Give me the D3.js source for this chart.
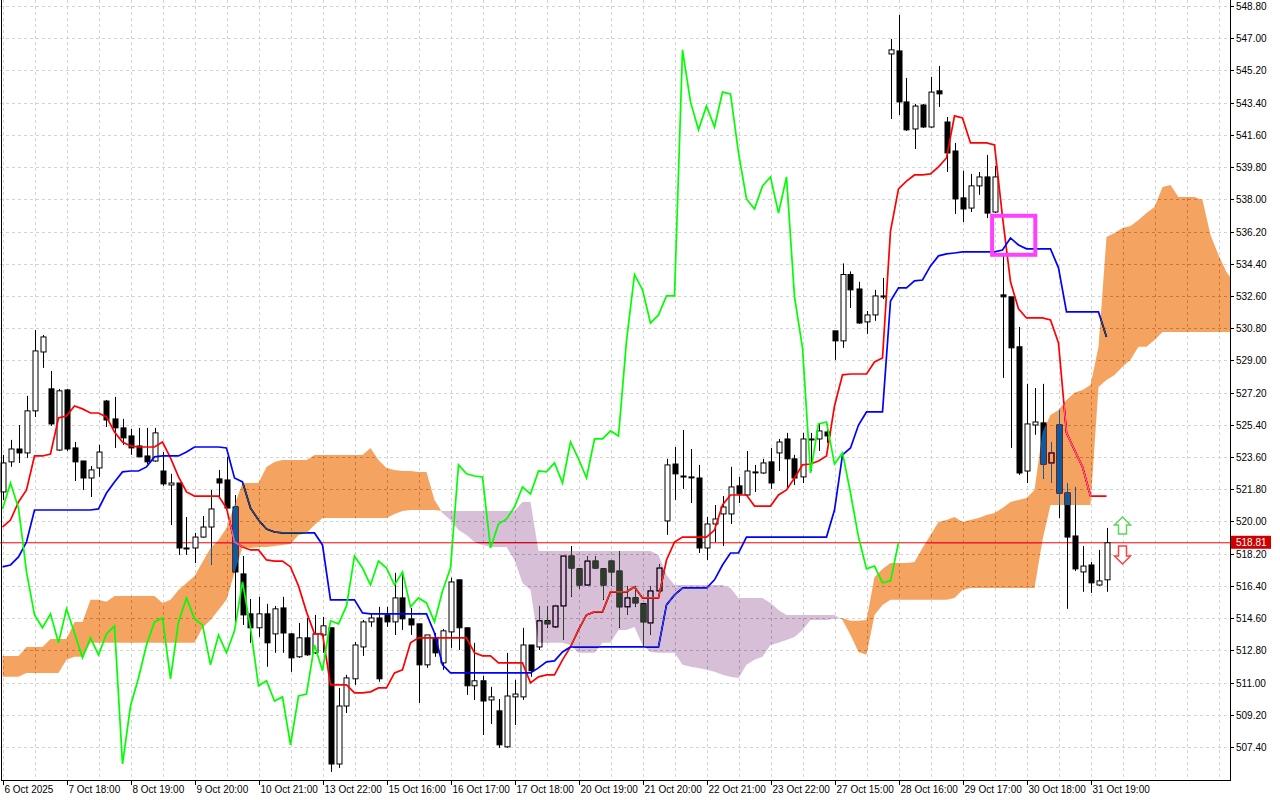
<!DOCTYPE html>
<html>
<head>
<meta charset="utf-8">
<script src="https://cdnjs.cloudflare.com/ajax/libs/d3/7.8.5/d3.min.js"></script>
<style>
  html, body { margin: 0; padding: 0; background: #fff; }
  svg { display: block; }
  text { font-family: "Liberation Sans", Arial, sans-serif; font-size: 10px; fill: #000; }
</style>
</head>
<body>
<svg id="chart" width="1280" height="800"></svg>
<script>
// price bars, one per hour
const opens = [
  521.65,523.33,524.05,523.83,526.18,529.47,527.41,523.99,527.35,524.11,
  523.38,522.43,522.99,526.73,525.73,525.23,524.78,524.22,523.66,523.38,
  522.82,522.04,522.15,518.52,518.52,519.13,519.69,522.38,522.32,520.81,
  517.07,514.84,514.06,514.84,513.72,515.17,513.72,512.44,513.50,512.66,
  513.66,514.06,506.45,509.69,511.21,512.99,514.39,514.61,514.78,514.39,
  515.73,514.56,514.28,511.99,513.50,512.10,513.83,516.74,514.06,510.82,
  511.10,510.03,509.42,507.41,510.20,510.20,513.10,512.99,514.45,514.11,
  515.28,518.07,517.35,516.45,517.79,517.35,517.79,517.23,515.23,515.73,
  515.40,514.33,516.12,520.03,523.21,522.54,522.49,522.43,518.52,519.86,
  520.42,520.42,521.99,521.48,522.77,522.71,523.33,523.83,524.61,523.50,
  522.49,524.61,524.61,525.00,530.65,530.09,533.80,532.99,531.15,531.54,
  532.60,546.12,546.29,543.44,541.93,543.27,542.04,544.06,542.32,540.70,
  538.08,537.51,538.75,539.25,537.29,532.66,532.55,529.76,522.82,525.39,
  525.51,523.27,525.39,521.59,519.19,517.18,517.57,516.45,516.74
];
const highs = [
  523.72,524.56,525.39,527.02,530.70,530.42,528.41,527.41,527.41,524.44,
  523.38,523.10,524.28,526.79,526.96,525.73,525.17,525.23,525.23,525.23,
  523.88,522.66,522.15,520.25,519.36,520.31,521.76,522.88,523.61,521.48,
  518.07,515.67,515.79,515.40,515.28,515.79,513.77,514.33,514.61,514.78,
  514.67,514.06,510.70,511.43,513.27,514.50,514.84,515.23,515.23,517.13,
  517.18,515.17,514.28,513.66,513.77,514.00,516.86,516.74,514.06,513.22,
  511.38,510.76,510.08,512.66,511.15,514.06,513.10,515.28,515.28,515.34,
  518.07,518.63,517.35,518.07,518.07,517.35,517.79,518.35,516.40,516.40,
  515.40,516.40,517.62,523.50,524.16,525.11,524.05,523.16,520.25,520.92,
  521.42,523.05,522.49,523.94,523.16,523.50,524.11,524.61,524.95,523.72,
  524.95,524.95,525.45,525.45,530.65,534.42,533.97,533.39,531.76,532.94,
  533.61,546.96,548.30,544.78,543.33,543.33,544.84,545.45,542.60,541.15,
  539.59,539.42,539.53,540.48,539.87,535.00,532.55,530.87,527.69,527.46,
  527.69,524.44,526.23,522.15,521.93,518.63,517.74,518.41,519.64
];
const lows = [
  521.20,523.05,523.27,523.55,525.84,528.58,525.34,523.94,523.94,522.26,
  521.76,521.37,522.49,525.28,524.11,524.28,523.72,523.61,523.21,523.33,
  521.99,519.80,518.13,518.13,517.68,519.08,517.57,521.37,520.75,514.22,
  514.22,513.22,513.55,511.88,512.66,512.66,511.60,512.38,512.49,512.60,
  512.66,506.01,506.23,509.30,510.87,512.49,514.11,511.04,514.11,513.66,
  513.94,513.66,509.86,511.82,512.44,511.71,512.94,512.82,510.31,510.03,
  508.07,508.69,507.35,507.35,508.63,510.03,511.32,512.82,514.06,514.06,
  513.38,515.79,516.23,516.40,517.35,515.62,516.40,514.06,514.78,515.23,
  512.99,513.66,516.07,519.25,521.20,521.82,521.03,518.24,517.85,518.85,
  518.63,519.86,521.03,521.42,521.65,522.66,521.82,522.82,521.82,522.04,
  522.15,522.82,523.94,524.39,529.03,529.70,531.93,531.04,530.48,531.21,
  532.43,542.49,542.71,541.82,540.81,541.99,541.99,543.16,539.53,537.18,
  536.73,537.29,538.25,536.95,537.23,528.02,524.11,522.60,522.15,524.84,
  522.38,522.15,520.19,515.12,517.23,516.07,516.01,516.40,516.07
];
const closes = [
  523.27,524.05,523.83,526.18,529.53,530.31,525.45,527.30,524.05,523.33,
  522.43,522.88,523.88,525.67,525.23,524.67,524.11,523.61,523.33,524.95,
  522.10,522.15,518.52,518.52,519.13,519.69,520.70,522.15,520.75,517.18,
  514.78,514.06,514.84,513.22,515.12,513.77,512.38,513.50,512.55,513.72,
  514.17,506.45,509.69,511.26,513.10,514.39,514.61,511.21,514.39,515.73,
  514.56,514.22,511.99,513.66,512.66,513.89,516.62,514.06,510.82,511.10,
  509.97,510.20,507.52,510.25,510.36,513.10,511.66,514.45,514.28,515.28,
  518.07,517.40,516.45,517.79,517.40,516.45,517.18,515.23,515.73,515.45,
  514.39,516.12,517.40,523.16,522.66,522.54,522.49,518.52,519.86,520.14,
  520.81,521.93,521.54,522.82,522.77,523.27,522.15,524.44,523.50,522.43,
  524.61,524.61,525.06,524.78,530.09,533.80,532.94,531.09,531.54,532.60,
  532.60,546.35,543.44,541.88,543.21,542.04,543.99,543.89,540.59,538.02,
  537.46,538.75,539.25,537.23,539.25,532.55,529.70,522.71,525.45,525.56,
  523.21,523.83,521.59,519.13,517.35,517.51,516.57,516.68,518.81
];

// Ichimoku lines
const tenkan = [
  519.69,520.08,521.09,521.76,523.66,523.66,523.77,525.78,525.90,526.45,
  526.29,526.06,526.06,525.84,525.00,524.44,524.22,524.16,524.16,524.16,
  524.44,523.55,522.49,521.65,521.42,521.42,521.42,521.42,520.75,518.85,
  518.57,518.41,518.41,517.85,517.79,517.79,517.46,516.40,514.95,513.72,
  513.72,510.87,510.87,510.87,510.42,510.42,510.48,510.70,510.70,511.54,
  511.71,513.22,513.50,513.50,513.50,513.50,513.50,513.50,513.50,512.66,
  512.49,512.49,512.10,512.10,512.10,512.10,510.98,511.32,511.43,511.43,
  512.27,512.99,513.94,514.78,514.95,514.95,516.07,516.07,516.07,516.34,
  515.73,515.73,515.73,517.85,518.85,519.13,519.13,519.13,519.13,519.52,
  520.92,521.48,521.48,521.48,520.86,520.86,520.86,521.48,521.76,522.43,
  523.16,523.21,523.38,523.66,526.45,528.19,528.24,528.24,528.24,528.91,
  529.14,536.23,538.58,539.02,539.36,539.36,539.42,539.81,540.31,542.66,
  542.54,541.15,541.15,541.15,541.04,537.02,533.39,531.88,531.37,531.37,
  531.37,531.26,529.98,524.95,523.99,523.05,521.42,521.42,521.42
];
const kijun = [
  517.46,517.57,518.02,518.85,520.64,520.64,520.64,520.64,520.64,520.64,
  520.64,520.64,520.70,521.59,522.21,522.77,522.82,522.82,523.05,523.61,
  523.66,523.66,523.66,523.88,524.16,524.16,524.16,524.16,524.11,522.43,
  522.21,520.75,520.08,519.58,519.41,519.36,519.36,519.36,519.36,519.36,
  518.69,515.62,515.62,515.62,515.62,514.89,514.84,514.84,514.84,514.84,
  514.84,514.84,514.84,514.84,513.77,511.99,511.54,511.54,511.54,511.54,
  511.54,511.54,511.54,511.54,511.54,511.54,511.54,511.82,512.16,512.21,
  512.71,512.99,512.99,512.99,512.99,512.99,512.99,512.99,512.99,512.99,
  512.99,512.99,512.99,515.34,515.90,516.28,516.28,516.28,516.28,516.74,
  517.57,518.24,518.24,519.13,519.13,519.13,519.13,519.13,519.13,519.13,
  519.13,519.13,519.13,519.13,520.64,523.72,524.11,525.39,526.12,526.12,
  526.12,532.32,533.05,533.05,533.44,533.49,534.28,534.84,534.95,535.00,
  535.06,535.06,535.06,535.06,535.06,535.17,535.84,535.45,535.23,535.23,
  535.23,535.23,534.17,531.71,531.71,531.71,531.71,531.71,530.31
];
// cloud spans, 26 bars ahead of price
const spanA = [
  512.49,512.49,512.49,512.99,512.99,512.99,513.44,513.44,513.44,514.39,
  514.39,515.62,515.62,515.51,515.84,515.84,515.84,515.84,515.84,515.84,
  515.45,515.62,516.17,516.56,516.95,517.74,518.52,518.97,519.64,520.92,
  522.15,522.15,522.15,523.05,523.33,523.44,523.44,523.44,523.44,523.72,
  523.72,523.72,523.72,523.72,523.72,523.72,524.11,523.44,522.99,522.88,
  522.82,522.82,522.77,522.77,521.20,520.48,520.08,519.52,519.25,518.85,
  518.69,518.57,518.57,518.57,517.85,516.56,516.17,513.22,513.22,513.22,
  513.22,513.10,512.66,512.66,512.66,513.22,513.22,513.94,513.94,514.11,
  513.10,512.71,512.66,512.66,512.66,511.99,511.88,511.82,511.71,511.60,
  511.43,511.32,511.26,511.99,512.27,512.44,513.10,513.22,513.38,513.55,
  513.94,514.50,514.50,514.50,514.56,514.61,514.45,514.45,514.50,516.90,
  517.35,517.68,517.68,517.68,517.74,518.52,519.25,519.97,520.08,520.25,
  519.97,520.08,520.19,520.36,520.48,520.75,521.09,521.20,521.31,521.76,
  525.00,525.95,526.23,526.79,527.19,527.35,527.63,529.76,535.89,536.12,
  536.40,536.51,536.84,537.23,537.57,538.69,538.80,538.13,538.13,538.13,
  537.96,536.01,534.89,533.94,533.33
];
const spanB = [
  511.32,511.32,511.32,511.54,511.54,511.54,511.54,511.54,512.27,512.44,
  512.44,513.22,513.22,513.22,513.22,513.22,513.22,513.22,513.22,513.22,
  513.22,513.22,513.22,513.22,513.22,514.06,514.50,515.06,515.62,517.13,
  518.57,518.52,518.57,518.57,518.63,518.69,518.74,519.25,519.36,519.80,
  520.19,520.19,520.19,520.19,520.19,520.19,520.19,520.19,520.19,520.42,
  520.59,520.64,520.64,520.64,520.64,520.59,520.59,520.59,520.59,520.59,
  520.59,520.59,520.59,520.59,520.59,521.09,521.09,518.35,518.35,518.35,
  518.35,518.35,518.35,518.35,518.35,518.35,518.35,518.35,518.35,518.35,
  518.35,518.35,518.13,517.01,516.45,516.45,516.45,516.45,516.45,516.45,
  516.45,516.28,515.73,515.73,515.73,515.73,515.45,515.06,514.78,514.78,
  514.78,514.78,514.78,514.78,514.78,514.50,513.66,512.71,512.55,514.78,
  515.34,515.62,515.62,515.62,515.62,515.62,515.62,515.62,515.62,515.73,
  516.17,516.28,516.28,516.28,516.28,516.28,516.28,516.28,516.28,516.28,
  518.97,520.92,520.92,520.92,520.92,520.92,520.92,527.52,527.91,528.19,
  528.64,529.03,529.76,529.76,530.14,530.59,530.59,530.59,530.59,530.59,
  530.59,530.59,530.59,530.59,530.59
];
const chikouShift = 26;

const xLabels = [
  "6 Oct 2025","7 Oct 18:00","8 Oct 19:00","9 Oct 20:00","10 Oct 21:00",
  "13 Oct 22:00","15 Oct 16:00","16 Oct 17:00","17 Oct 18:00","20 Oct 19:00",
  "21 Oct 20:00","22 Oct 21:00","23 Oct 22:00","27 Oct 15:00","28 Oct 16:00",
  "29 Oct 17:00","30 Oct 18:00","31 Oct 19:00"
];
const labelEvery = 8;
const yTicks = d3.range(24).map(k => +(548.8 - 1.8 * k).toFixed(2));
const lastPrice = 518.81;
// highlighted box (bars, prices)
const boxBars = [123.7, 129.1];
const boxPrices = [537.08, 534.9];
const arrowBar = 140;

const W = 1230, H = 780;
const svg = d3.select('#chart');
svg.append('rect').attr('width', 1280).attr('height', 800).attr('fill', '#fff');

const x = d3.scaleLinear().domain([-0.3125, 153.4375]).range([0, W]);
const y = d3.scaleLinear().domain([507.4, 548.8]).range([747, 6]);

svg.append('clipPath').attr('id', 'clip')
  .append('rect').attr('x', 0).attr('y', 0).attr('width', W).attr('height', H);
const plot = svg.append('g').attr('clip-path', 'url(#clip)');
// white backdrop inside the clipped group so the cloud blend has something to invert
plot.append('rect').attr('width', W).attr('height', H).attr('fill', '#fff');

// grid
const gridX = d3.range(0, 154, 4);
plot.selectAll('.gx').data(gridX).enter().append('line')
  .attr('x1', d => Math.round(x(d)) + 0.5).attr('x2', d => Math.round(x(d)) + 0.5)
  .attr('y1', 0).attr('y2', H)
  .attr('stroke', '#d4d4d4').attr('stroke-dasharray', '3,3');
plot.selectAll('.gy').data(yTicks).enter().append('line')
  .attr('x1', 0).attr('x2', W)
  .attr('y1', d => Math.round(y(d)) + 0.5).attr('y2', d => Math.round(y(d)) + 0.5)
  .attr('stroke', '#d4d4d4').attr('stroke-dasharray', '3,3');

// current price line
plot.append('line').attr('x1', 0).attr('x2', W)
  .attr('y1', y(lastPrice)).attr('y2', y(lastPrice))
  .attr('stroke', '#ff0000').attr('stroke-width', 1);

// candles
const bars = plot.append('g');
closes.forEach((c, i) => {
  const o = opens[i], cx = Math.round(x(i)) + 0.5;
  const up = c >= o;
  bars.append('line').attr('x1', cx).attr('x2', cx)
    .attr('y1', y(highs[i])).attr('y2', y(lows[i])).attr('stroke', '#000');
  const top = y(Math.max(o, c)), bot = y(Math.min(o, c));
  bars.append('rect')
    .attr('x', cx - 2.5).attr('y', top)
    .attr('width', 5).attr('height', Math.max(1, bot - top))
    .attr('fill', up ? '#fff' : '#000').attr('stroke', '#000').attr('stroke-width', 1);
});

const line = d3.line().x((d, i) => x(i)).y(d => y(d));
plot.append('path').datum(tenkan).attr('d', line)
  .attr('fill', 'none').attr('stroke', '#ff0000').attr('stroke-width', 1.7);
plot.append('path').datum(kijun).attr('d', line)
  .attr('fill', 'none').attr('stroke', '#0000ff').attr('stroke-width', 1.7);

// cloud, drawn as an inverting layer the way the terminal does
const runs = [];
let cur = null;
spanA.forEach((a, i) => {
  const bull = a >= spanB[i];
  if (!cur || cur.bull !== bull) {
    if (cur) cur.idx.push(i);
    cur = {bull, idx: [i]};
    runs.push(cur);
  } else cur.idx.push(i);
});
const area = d3.area().x(i => x(i)).y0(i => y(spanA[i])).y1(i => y(spanB[i]));
plot.selectAll('.cloud').data(runs).enter().append('path')
  .attr('d', r => area(r.idx))
  .attr('fill', r => r.bull ? '#0b5b9f' : '#274027')
  .style('mix-blend-mode', 'difference');

// lagging span
const chikou = closes.slice(chikouShift);
plot.append('path').datum(chikou).attr('d', line)
  .attr('fill', 'none').attr('stroke', '#00ff00').attr('stroke-width', 1.7);

// highlight box
plot.append('rect')
  .attr('x', x(boxBars[0])).attr('y', y(boxPrices[0]))
  .attr('width', x(boxBars[1]) - x(boxBars[0]))
  .attr('height', y(boxPrices[1]) - y(boxPrices[0]))
  .attr('fill', 'none').attr('stroke', '#ff40ff').attr('stroke-width', 4);

// arrows
const ax = x(arrowBar);
const upPath = (cx, t) => `M${cx},${t} l8,8 h-4 v9 h-8 v-9 h-4 z`;
const dnPath = (cx, t) => `M${cx - 4},${t} h8 v10 h4 l-8,8 l-8,-8 h4 z`;
plot.append('path').attr('d', upPath(ax, y(520.25)))
  .attr('fill', '#fff').attr('stroke', '#5cd65c').attr('stroke-width', 1.5);
plot.append('path').attr('d', dnPath(ax, y(518.63)))
  .attr('fill', '#fff').attr('stroke', '#ff4040').attr('stroke-width', 1.5);

// frame
svg.append('line').attr('x1', 1.5).attr('x2', 1.5).attr('y1', 0).attr('y2', H + 0.5).attr('stroke', '#000');
svg.append('line').attr('x1', W + 0.5).attr('x2', W + 0.5).attr('y1', 0).attr('y2', H + 0.5).attr('stroke', '#000');
svg.append('line').attr('x1', 1).attr('x2', W + 1).attr('y1', H + 0.5).attr('y2', H + 0.5).attr('stroke', '#000');

// price axis
const ya = svg.append('g');
yTicks.forEach(t => {
  const py = Math.round(y(t)) + 0.5;
  ya.append('line').attr('x1', W).attr('x2', W + 4).attr('y1', py).attr('y2', py).attr('stroke', '#000');
  ya.append('text').attr('x', W + 6).attr('y', py + 3.5).text(t.toFixed(2));
});
const ly = y(lastPrice);
svg.append('rect').attr('x', W + 1).attr('y', ly - 7).attr('width', 40).attr('height', 13).attr('fill', '#d00000');
svg.append('text').attr('x', W + 6).attr('y', ly + 3.5).style('fill', '#fff').text(lastPrice.toFixed(2));

// time axis
xLabels.forEach((s, k) => {
  const px = Math.round(x(k * labelEvery)) + 0.5;
  svg.append('line').attr('x1', px).attr('x2', px).attr('y1', H).attr('y2', H + 5).attr('stroke', '#000');
  svg.append('text').attr('x', px + 1).attr('y', H + 13).text(s);
});
</script>
</body>
</html>
